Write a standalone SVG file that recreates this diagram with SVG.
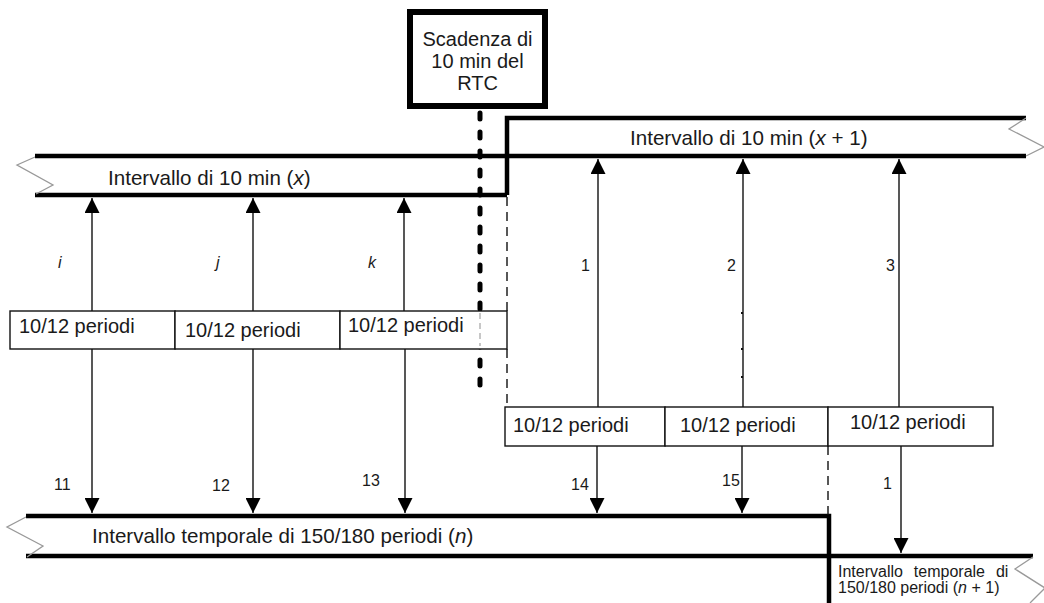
<svg xmlns="http://www.w3.org/2000/svg" width="1044" height="603" viewBox="0 0 1044 603">
<defs>
<style>
.t{font-family:"Liberation Sans",Arial,sans-serif;fill:#1a1a1a}
.b20{font-size:20px}
.bb{font-size:20.6px}
.b16{font-size:16px}
.it{font-style:italic}
.thick{fill:none;stroke:#000;stroke-width:4.5;stroke-linejoin:miter}
.zig{fill:none;stroke:#999;stroke-width:1.3}
.box{fill:#fff;stroke:#111;stroke-width:1.4}
.arr{fill:none;stroke:#111;stroke-width:1.4}
.dash{fill:none;stroke:#111;stroke-width:1.4;stroke-dasharray:9 6}
</style>
<marker id="ah" viewBox="0 0 15 15" refX="15" refY="7.5" markerWidth="15" markerHeight="15" markerUnits="userSpaceOnUse" orient="auto">
<path d="M0,0 L15,7.5 L0,15 z" fill="#000"/>
</marker>
</defs>
<rect width="1044" height="603" fill="#fff"/>

<g id="band-x">
<path class="thick" d="M35,156 H508"/>
<path class="thick" d="M35,195 H507"/>
<path class="zig" d="M35,157 L17,165 L53,185 L36,194"/>
<text class="t bb" x="108" y="185">Intervallo di 10 min (<tspan class="it">x</tspan>)</text>
</g>

<g id="band-x1">
<path class="thick" d="M507,195 V118 H1026"/>
<path class="thick" d="M505,156 H1026"/>
<path class="zig" d="M1026,118 L1009,129 L1044,147 L1026,156"/>
<text class="t bb" x="630" y="145">Intervallo di 10 min (<tspan class="it">x</tspan> + 1)</text>
</g>

<g id="band-n">
<path class="thick" d="M26,516 H829 V603"/>
<path class="thick" d="M26,556 H829"/>
<path class="zig" d="M26,517 L7,527 L43,546 L27,557"/>
<text class="t bb" x="92" y="543">Intervallo temporale di 150/180 periodi (<tspan class="it">n</tspan>)</text>
</g>

<g id="band-n1">
<path class="thick" d="M827,556 H1033"/>
<path class="zig" d="M1033,557 L1015,569 L1045,588 L1030,603"/>
<text class="t b16" x="838" y="577" word-spacing="6.5">Intervallo temporale di</text>
<text class="t b16" x="838" y="593">150/180 periodi (<tspan class="it">n</tspan> + 1)</text>
</g>

<g id="rtc-line">
<path d="M480,113 V386" fill="none" stroke="#000" stroke-width="5" stroke-linecap="round" stroke-dasharray="6 13"/>
</g>

<g id="rtc">
<rect x="410" y="12" width="135" height="94" fill="#fff" stroke="#000" stroke-width="6"/>
<text class="t b20" x="477.5" y="46" text-anchor="middle">Scadenza di</text>
<text class="t b20" x="477.5" y="68" text-anchor="middle">10 min del</text>
<text class="t b20" x="477.5" y="90" text-anchor="middle">RTC</text>
</g>

<g id="connectors">
<path class="dash" d="M507,197 V311 M507,349 V407"/>
<path class="dash" d="M828,446 V516"/>
<path class="arr" marker-end="url(#ah)" d="M92,311 V198"/>
<path class="arr" marker-end="url(#ah)" d="M253,311 V198"/>
<path class="arr" marker-end="url(#ah)" d="M404,311 V198"/>
<path class="arr" marker-end="url(#ah)" d="M92,349 V513"/>
<path class="arr" marker-end="url(#ah)" d="M253,349 V513"/>
<path class="arr" marker-end="url(#ah)" d="M405,349 V513"/>
<path class="arr" marker-end="url(#ah)" d="M598,407 V159"/>
<path class="arr" marker-end="url(#ah)" d="M743,407 V159"/>
<path class="arr" marker-end="url(#ah)" d="M899,407 V159"/>
<path class="arr" marker-end="url(#ah)" d="M597,446 V513"/>
<path class="arr" marker-end="url(#ah)" d="M742,446 V513"/>
<path class="arr" marker-end="url(#ah)" d="M901,446 V553"/>
<path d="M741,313 h2 M741,349 h2 M741,377 h2" stroke="#111" stroke-width="2"/>
<text class="t b16 it" x="58" y="268">i</text>
<text class="t b16 it" x="216" y="268">j</text>
<text class="t b16 it" x="368" y="268">k</text>
<text class="t b16" x="581" y="271">1</text>
<text class="t b16" x="727" y="271">2</text>
<text class="t b16" x="886" y="271">3</text>
<text class="t b16" x="54" y="490">11</text>
<text class="t b16" x="212" y="491">12</text>
<text class="t b16" x="362" y="486">13</text>
<text class="t b16" x="571" y="490">14</text>
<text class="t b16" x="722" y="486">15</text>
<text class="t b16" x="883" y="489">1</text>
</g>

<g id="box-L1"><rect class="box" x="10" y="311" width="165" height="38"/><text class="t b20" x="19" y="333">10/12 periodi</text></g>
<g id="box-L2"><rect class="box" x="175" y="311" width="165" height="38"/><text class="t b20" x="185" y="337">10/12 periodi</text></g>
<g id="box-L3"><rect class="box" x="340" y="311" width="167" height="38"/><text class="t b20" x="348" y="332">10/12 periodi</text>
<path d="M480,313 V346" fill="none" stroke="#aaa" stroke-width="1.3" stroke-dasharray="6 4"/></g>
<g id="box-R1"><rect class="box" x="505" y="407" width="160" height="39"/><text class="t b20" x="513" y="432">10/12 periodi</text></g>
<g id="box-R2"><rect class="box" x="665" y="407" width="163" height="39"/><text class="t b20" x="680" y="432">10/12 periodi</text></g>
<g id="box-R3"><rect class="box" x="828" y="407" width="165" height="39"/><text class="t b20" x="850" y="429">10/12 periodi</text></g>
</svg>
